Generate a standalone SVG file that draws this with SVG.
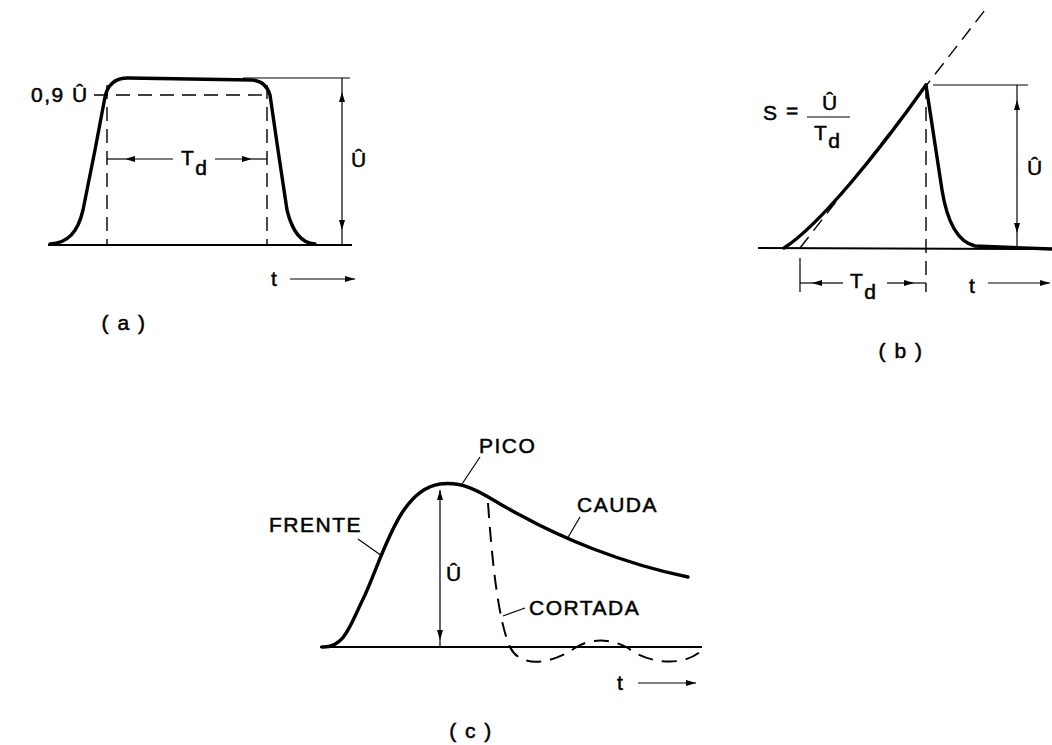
<svg xmlns="http://www.w3.org/2000/svg" width="1052" height="745" viewBox="0 0 1052 745">
<defs>
<style>
.curve{fill:none;stroke:#000;stroke-width:3.4;stroke-linecap:round;stroke-linejoin:round}
.base{fill:none;stroke:#000;stroke-width:2}
.dim{fill:none;stroke:#000;stroke-width:1.2}
.dash{fill:none;stroke:#000;stroke-width:1.4;stroke-dasharray:14 8}
.cut{fill:none;stroke:#000;stroke-width:2;stroke-dasharray:15 9}
.lbl{font-family:"Liberation Sans",Arial,sans-serif;font-size:21px;letter-spacing:1.5px;fill:#000;stroke:#000;stroke-width:0.5}
</style>
<marker id="ah" viewBox="0 0 10 6" refX="10" refY="3" markerWidth="10" markerHeight="6" markerUnits="userSpaceOnUse" orient="auto">
<path d="M0,0 L10,3 L0,6 Z" fill="#000"/>
</marker>
</defs>
<rect width="1052" height="745" fill="#fff"/>

<!-- Panel (a) -->
<g id="panel-a">
<path class="base" d="M48,245 L352,245"/>
<path class="curve" d="M50,244 C68,243 78,232 83,210 L95,150 L105,97 Q109,78 128,78 L252,80 Q266,81 270,95 L278,150 L287,210 Q295,243 315,244"/>
<path class="dash" d="M94,95 L270,95"/>
<path class="dash" d="M107,85 L107,245"/>
<path class="dash" d="M267,85 L267,245"/>
<path class="dim" d="M173,159 L125,159" marker-end="url(#ah)"/>
<path class="dim" d="M125,159 L107,159"/>
<path class="dim" d="M215,159 L252,159" marker-end="url(#ah)"/>
<path class="dim" d="M252,159 L267,159"/>
<path class="dim" d="M243,78 L350,78"/>
<path class="dim" d="M342,160 L342,92" marker-end="url(#ah)"/>
<path class="dim" d="M342,92 L342,78"/>
<path class="dim" d="M342,160 L342,230" marker-end="url(#ah)"/>
<path class="dim" d="M342,230 L342,245"/>
<text class="lbl" x="31" y="102">0,9 Û</text>
<text class="lbl" x="181" y="165">T<tspan dy="10">d</tspan></text>
<text class="lbl" x="351" y="167">Û</text>
<text class="lbl" x="271" y="286">t</text>
<path class="dim" d="M290,279 L355,279" stroke-width="1.5" marker-end="url(#ah)"/>
<text class="lbl" x="124" y="330" text-anchor="middle">( a )</text>
</g>

<!-- Panel (b) -->
<g id="panel-b">
<path class="base" d="M758,248 L1052,249"/>
<path class="curve" d="M784,248 C820,225 880,150 926,85"/>
<path class="curve" d="M926,85 L942,190 Q950,240 975,246 L1052,249"/>
<path class="dash" d="M800,248 L985,10"/>
<path class="dash" d="M926,85 L926,292" stroke-dasharray="22 5"/>
<path class="dim" d="M933,85 L1028,85"/>
<path class="dim" d="M1017,160 L1017,100" marker-end="url(#ah)"/>
<path class="dim" d="M1017,100 L1017,85"/>
<path class="dim" d="M1017,160 L1017,233" marker-end="url(#ah)"/>
<path class="dim" d="M1017,233 L1017,248"/>
<text class="lbl" x="1027" y="175">Û</text>
<path class="dim" d="M800,258 L800,292"/>
<path class="dim" d="M843,283 L812,283" marker-end="url(#ah)"/>
<path class="dim" d="M812,283 L800,283"/>
<path class="dim" d="M887,283 L914,283" marker-end="url(#ah)"/>
<path class="dim" d="M914,283 L926,283"/>
<text class="lbl" x="850" y="288">T<tspan dy="11">d</tspan></text>
<text class="lbl" x="969" y="293">t</text>
<path class="dim" d="M988,283 L1050,283" stroke-width="1.5" marker-end="url(#ah)"/>
<text class="lbl" x="763" y="120">S</text>
<text class="lbl" x="786" y="118">=</text>
<path class="dim" d="M807,117 L850,117" stroke-width="1.8"/>
<text class="lbl" x="822" y="110">Û</text>
<text class="lbl" x="814" y="140">T<tspan dy="8">d</tspan></text>
<text class="lbl" x="901" y="358" text-anchor="middle">( b )</text>
</g>

<!-- Panel (c) -->
<g id="panel-c">
<path class="base" d="M320,647 L702,647"/>
<path class="curve" d="M322,647 C345,648 350,625 365,595 C385,550 400,490 440,484 C470,480 490,500 520,515 C560,537 620,563 688,577"/>
<path class="cut" d="M488,503 C492,560 498,620 510,647 C520,668 550,665 575,648 C590,638 610,638 628,648 C645,662 680,668 700,652"/>
<path class="dim" d="M440,560 L440,490" marker-end="url(#ah)"/>
<path class="dim" d="M440,560 L440,640" marker-end="url(#ah)"/>
<path class="dim" d="M440,640 L440,647"/>
<text class="lbl" x="446" y="581">Û</text>
<text class="lbl" x="479" y="453">PICO</text>
<path class="dim" d="M480,457 L462,484"/>
<text class="lbl" x="577" y="512">CAUDA</text>
<path class="dim" d="M580,517 L567,539"/>
<text class="lbl" x="269" y="532">FRENTE</text>
<path class="dim" d="M358,539 L382,556"/>
<text class="lbl" x="529" y="615">CORTADA</text>
<path class="dim" d="M525,608 L503,616"/>
<text class="lbl" x="617" y="690">t</text>
<path class="dim" d="M638,683 L696,683" stroke-width="1.5" marker-end="url(#ah)"/>
<text class="lbl" x="471" y="738" text-anchor="middle">( c )</text>
</g>
</svg>
